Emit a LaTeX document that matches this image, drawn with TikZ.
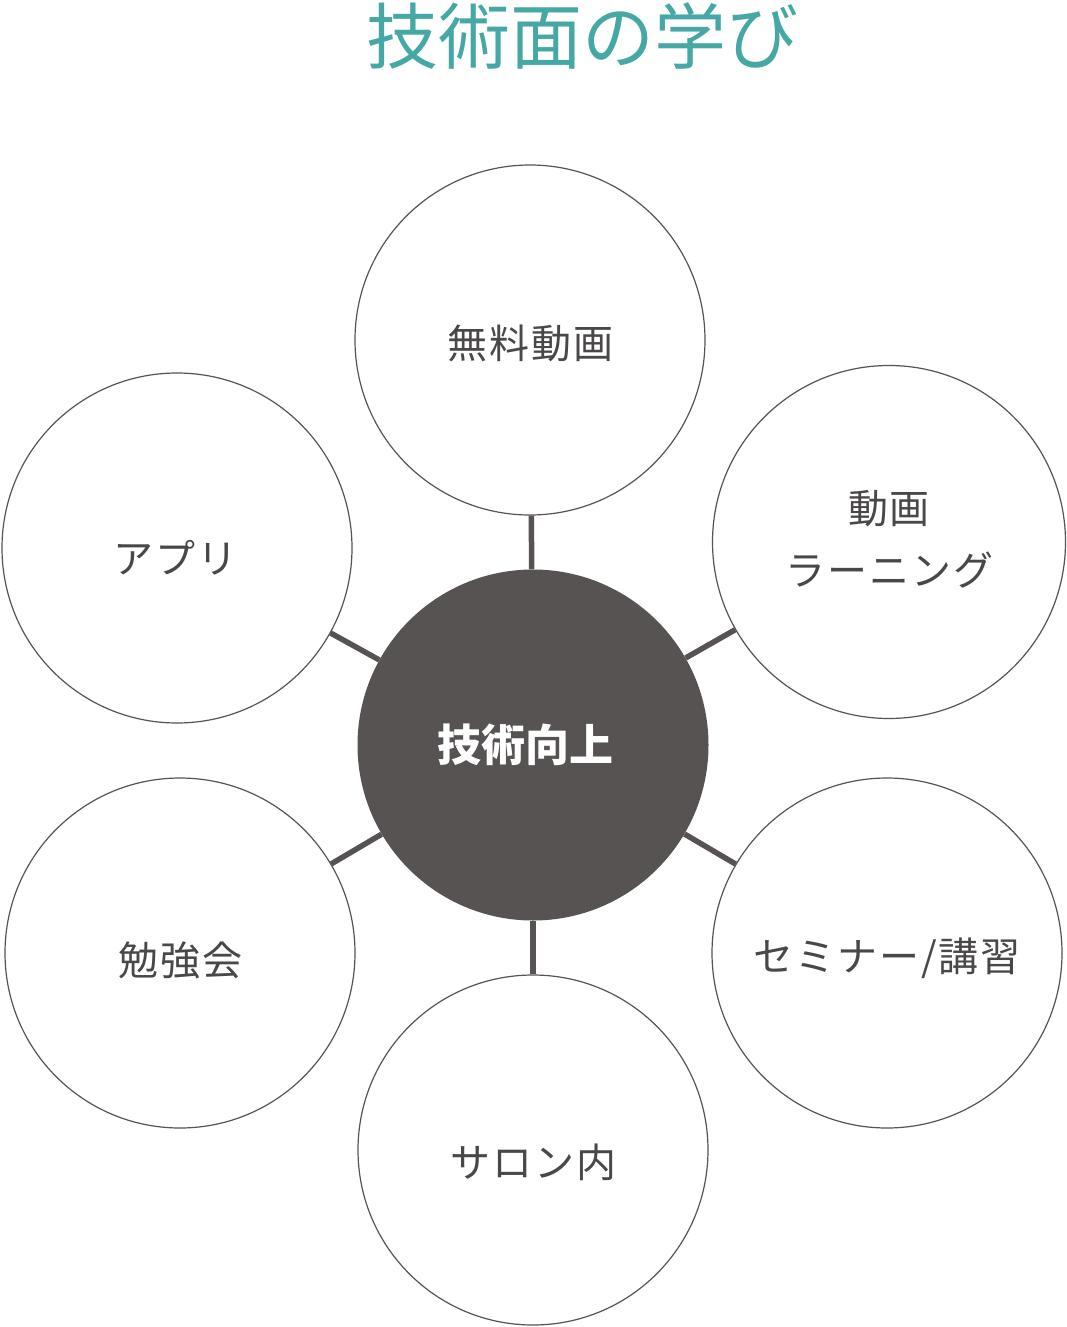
\documentclass[tikz,border=0pt]{standalone}
\usepackage{fontspec}
\newfontfamily\jp{Noto Sans CJK JP}
\newfontfamily\jpsp[LetterSpace=5]{Noto Sans CJK JP}
\definecolor{teal1}{HTML}{45A8A5}
\definecolor{dk}{HTML}{575352}
\definecolor{txt}{HTML}{4A4747}
\begin{document}
\begin{tikzpicture}[x=1pt,y=-1pt,
  outer/.style={circle,draw=dk,line width=1.2pt,fill=white,minimum size=350pt,inner sep=0pt},
  core/.style={circle,fill=dk,minimum size=351pt,inner sep=0pt},
  lbl/.style={font=\jpsp\fontsize{40}{62}\selectfont,text=txt,align=center},
  link/.style={draw=dk,line width=5.5pt}]
\useasboundingbox (0,0) rectangle (1067,1327);
\node[font=\jp\fontsize{72}{76}\selectfont,text=teal1] (title) at (582,36) {技術面の学び};
\node[core] (c) at (533,745) {};
\node[outer] (t) at (530,340) {};
\node[outer,minimum size=353pt] (rt) at (889,542) {};
\node[outer] (lt) at (177,548) {};
\node[outer] (lb) at (180,953) {};
\node[outer] (rb) at (887,953) {};
\node[outer] (b) at (533,1150) {};
\draw[link] (c) -- (t);
\draw[link] (c) -- (rt);
\draw[link] (c) -- (lt);
\draw[link] (c) -- (lb);
\draw[link] (c) -- (rb);
\draw[link] (c) -- (b);
\node[font=\jp\bfseries\fontsize{44}{48}\selectfont,text=white] (ct) at (525,745) {技術向上};
\node[lbl] (tt) at (530,343) {無料動画};
\node[lbl] (rtt) at (889,539) {動画\\ラーニング};
\node[lbl] (ltt) at (175,558) {アプリ};
\node[lbl] (lbt) at (180,960) {勉強会};
\node[lbl] (rbt) at (887,958) {セミナー/講習};
\node[lbl] (bt) at (533,1162) {サロン内};
\end{tikzpicture}
\end{document}
